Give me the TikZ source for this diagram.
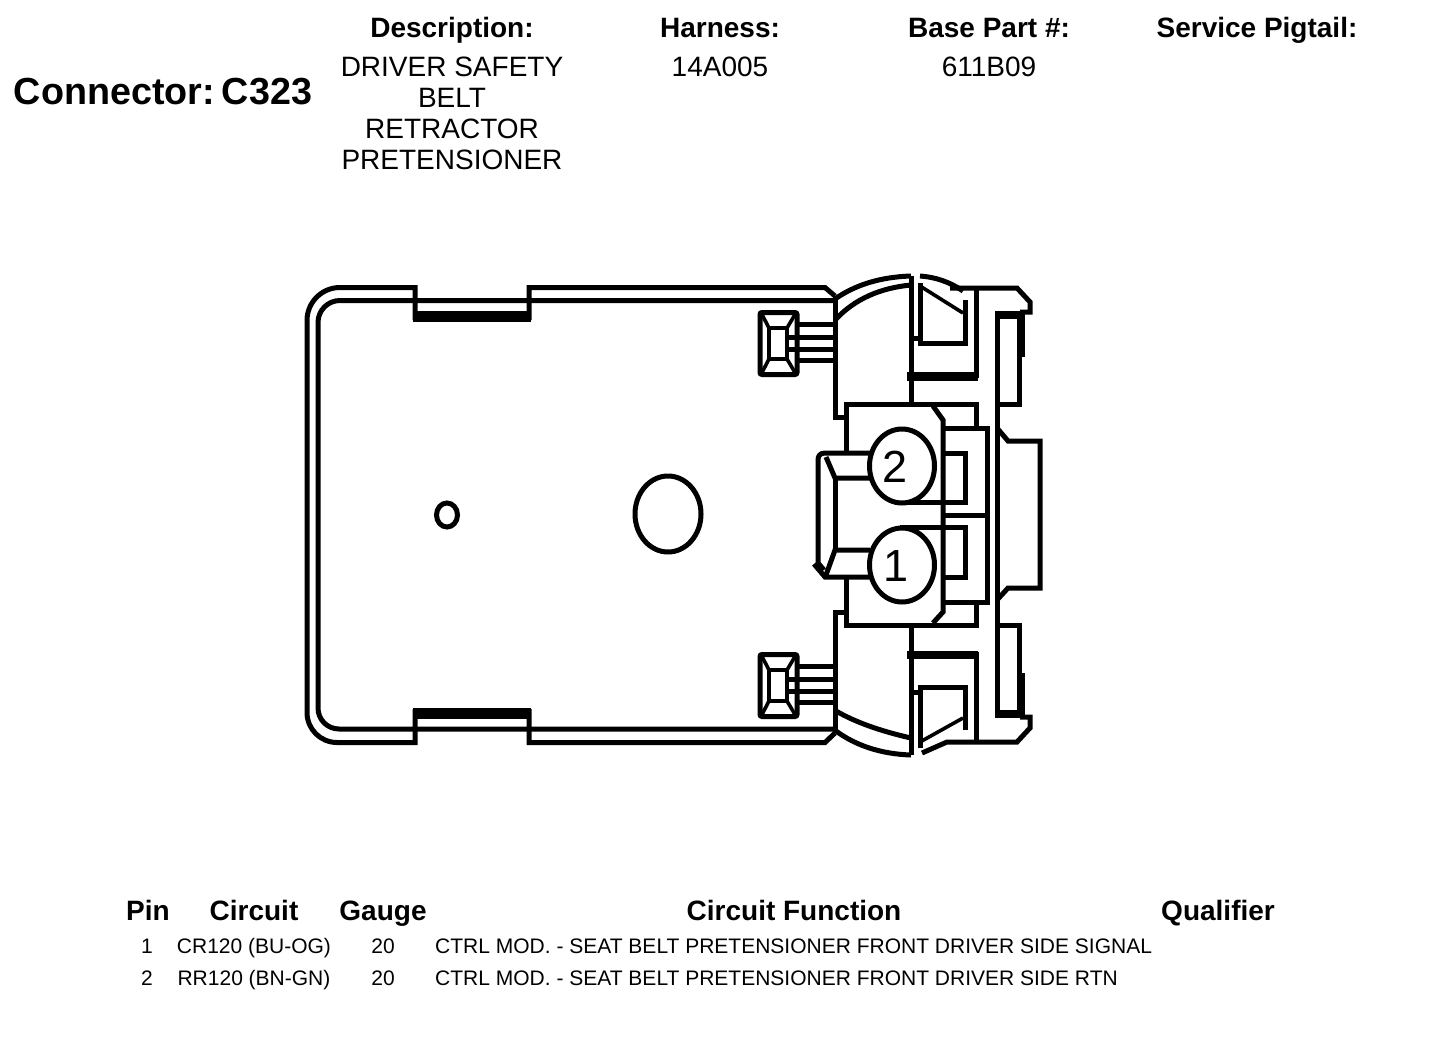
\documentclass[tikz,border=0pt]{standalone}
\usepackage{fontspec}
\setmainfont{Liberation Sans}
\usetikzlibrary{positioning}
\tikzset{
x=1pt, y=-1pt,
line join=round,
outline/.style={line width=5pt}, % the drawing of the connector
heavy/.style={line width=8pt},
thin line/.style={line width=3.6pt},
title/.style={font=\fontsize{37.7}{40}\selectfont\bfseries, inner sep=0pt, anchor=base},
head/.style={font=\fontsize{28}{31}\selectfont\bfseries, inner sep=0pt, anchor=base},
value/.style={font=\fontsize{28}{31}\selectfont, inner sep=0pt, anchor=base, align=center},
cell/.style={font=\fontsize{21}{24}\selectfont, inner sep=0pt, anchor=base},
pinno/.style={font=\fontsize{45}{48}\selectfont, inner sep=0pt},
}

\begin{document}
\begin{tikzpicture}
        \useasboundingbox[fill=white] (0,0) rectangle (1440,1060);

        % header
        \node[title] (conn) at (163,104) {Connector:\hspace{7pt}C323};
        \node[head] (desc) at (452,37) {Description:};
        \node[head] (harn) at (720,37) {Harness:};
        \node[head] (base) at (989,37) {Base Part \#:};
        \node[head] (pigt) at (1257,37) {Service Pigtail:};
        \node[value] (descval) at (452,76) {DRIVER SAFETY};
        \node[value] (descvalb) at (452,107) {BELT};
        \node[value] (descvalc) at (452,138) {RETRACTOR};
        \node[value] (descvald) at (452,169) {PRETENSIONER};
        \node[value] (harnval) at (720,76) {14A005};
        \node[value] (baseval) at (989,76) {611B09};

        % body, double outline with the two notches
        \draw[outline] (415,320) -- (415,287.5) -- (340,287.5) arc[start angle=270, end angle=180, radius=33] -- (307,712.5) arc[start angle=180, end angle=90, radius=30] -- (415,742.5) -- (415,709);
        \draw[outline] (529,320) -- (529,287.5) -- (825,287.5) -- (835,296);
        \draw[outline] (529,709) -- (529,742.5) -- (825,742.5) -- (835,733);
        \draw[outline] (835,300.5) -- (340,300.5) arc[start angle=270, end angle=180, radius=22] -- (318,708) arc[start angle=180, end angle=90, radius=21] -- (835,729);
        \fill (413,311) rectangle (531,321.5);
        \fill (413,708) rectangle (531,719);

        % holes
        \draw[outline] (447,515) ellipse[x radius=10.5, y radius=12];
        \draw[outline] (668,514) ellipse[x radius=33, y radius=38];

        % left wall of the cap
        \draw[outline] (835,296) -- (835,417) -- (847,417);
        \draw[outline] (835,733) -- (835,612) -- (847,612);
        \draw[outline] (835,299) .. controls (855,285) and (880,277) .. (911,276);
        \draw[outline] (836,319) .. controls (855,299) and (880,288) .. (911,285);
        \draw[outline] (836,731) .. controls (855,745) and (880,754) .. (911,755);
        \draw[outline] (836,711) .. controls (855,722) and (880,731) .. (911,738);

        % centre block
        \draw[outline] (846,453) -- (846,404) -- (976,404) -- (976,428);
        \draw[outline] (846,577) -- (846,625) -- (976,625) -- (976,601);
        \draw[outline] (933,406) -- (943,420) -- (943,612) -- (933,623);
        \draw[outline] (943,428) -- (987,428) -- (987,602) -- (943,602);
        \draw[outline] (943,515) -- (987,515);
        \draw[outline] (943,453) -- (965,453) -- (965,502) -- (900,502);
        \draw[outline] (900,527) -- (965,527) -- (965,577) -- (943,577);

        % latch tab
        \draw[outline] (870,453) -- (825,453) .. controls (820,453) and (818,456) .. (818,460) -- (818,563) -- (824,570);
        \draw[outline] (870,577) -- (825,577) -- (814,564);
        \draw[outline] (826,457) -- (835,478) -- (870,478);
        \draw[outline] (826,575) -- (835,550) -- (870,550);
        \draw[outline] (835,478) -- (835,550);

        % pin circles
        \draw[outline, fill=white] (902,466) ellipse[x radius=32.5, y radius=37];
        \draw[outline, fill=white] (902,565) ellipse[x radius=32.5, y radius=37];
        \node[pinno] (pin2) at (895,467) {2};
        \node[pinno] (pin1) at (896,566) {1};

        % top right
        \draw[outline] (911,276) -- (911,404);
        \draw[outline] (911,338) -- (920,338);
        \draw[outline] (920,283) -- (920,343) -- (965,343) -- (965,300);
        \draw[thin line] (920,286) -- (963,313);
        \draw[outline] (920,276) .. controls (935,277) and (950,282) .. (963,291);
        \draw[outline] (950,288) -- (1017,288) -- (1030,302) -- (1030,312) -- (1020,312);
        \draw[outline] (976,288) -- (976,378);
        \fill (907,372) rectangle (977.5,381);
        \draw[outline] (997,312) -- (997,717);
        \draw[outline] (997,316) -- (1019,316) -- (1019,404) -- (997,404);
        \draw[heavy] (995,315) -- (1021,315);
        \draw[heavy] (1021,312) -- (1021,357);

        % right bump
        \draw[outline] (997,428) -- (1008,441) -- (1040,441) -- (1040,588) -- (1008,588) -- (997,600);

        % bottom right
        \draw[outline] (911,755) -- (911,625);
        \draw[outline] (911,692) -- (920,692);
        \draw[outline] (920,748) -- (920,687) -- (965,687) -- (965,730);
        \draw[thin line] (920,742) -- (963,718);
        \draw[outline] (922,753) -- (947,742) -- (1017,742) -- (1030,728) -- (1030,717) -- (1020,717);
        \draw[outline] (976,742) -- (976,652);
        \fill (907,651) rectangle (977.5,659);
        \draw[outline] (997,625) -- (1019,625) -- (1019,713) -- (997,713);
        \draw[heavy] (995,714) -- (1021,714);
        \draw[heavy] (1021,673) -- (1021,717);

        % clips with their wires
        \foreach \clipy in {343.5,685.5}{
            \draw[outline, rounded corners=2pt] (760,\clipy-31) rectangle (797,\clipy+31);
            \draw[line width=4pt] (769,\clipy-15.5) rectangle (787,\clipy+15.5);
            \draw[thin line] (762,\clipy-29) -- (769,\clipy-15.5) (795,\clipy-29) -- (787,\clipy-15.5);
            \draw[thin line] (762,\clipy+29) -- (769,\clipy+15.5) (795,\clipy+29) -- (787,\clipy+15.5);
            \draw[outline] (797,\clipy-19.5) -- (835,\clipy-19.5) (787,\clipy-6) -- (835,\clipy-6);
            \draw[outline] (787,\clipy+6) -- (835,\clipy+6) (797,\clipy+16.5) -- (835,\clipy+16.5);
        }

        % table
        \node[head] (hpin) at (148,920) {Pin};
        \node[head] (hcir) at (254,920) {Circuit};
        \node[head] (hgau) at (383,920) {Gauge};
        \node[head] (hfun) at (794,920) {Circuit Function};
        \node[head] (hqua) at (1218,920) {Qualifier};
        \node[cell] (pa) at (147,953.5) {1};
        \node[cell] (ca) at (254,953.5) {CR120 (BU-OG)};
        \node[cell] (ga) at (383,953.5) {20};
        \node[cell, anchor=base west] (fa) at (435,953.5) {CTRL MOD. - SEAT BELT PRETENSIONER FRONT DRIVER SIDE SIGNAL};
        \node[cell] (pb) at (147,985.5) {2};
        \node[cell] (cb) at (254,985.5) {RR120 (BN-GN)};
        \node[cell] (gb) at (383,985.5) {20};
        \node[cell, anchor=base west] (fb) at (435,985.5) {CTRL MOD. - SEAT BELT PRETENSIONER FRONT DRIVER SIDE RTN};
\end{tikzpicture}
\end{document}
